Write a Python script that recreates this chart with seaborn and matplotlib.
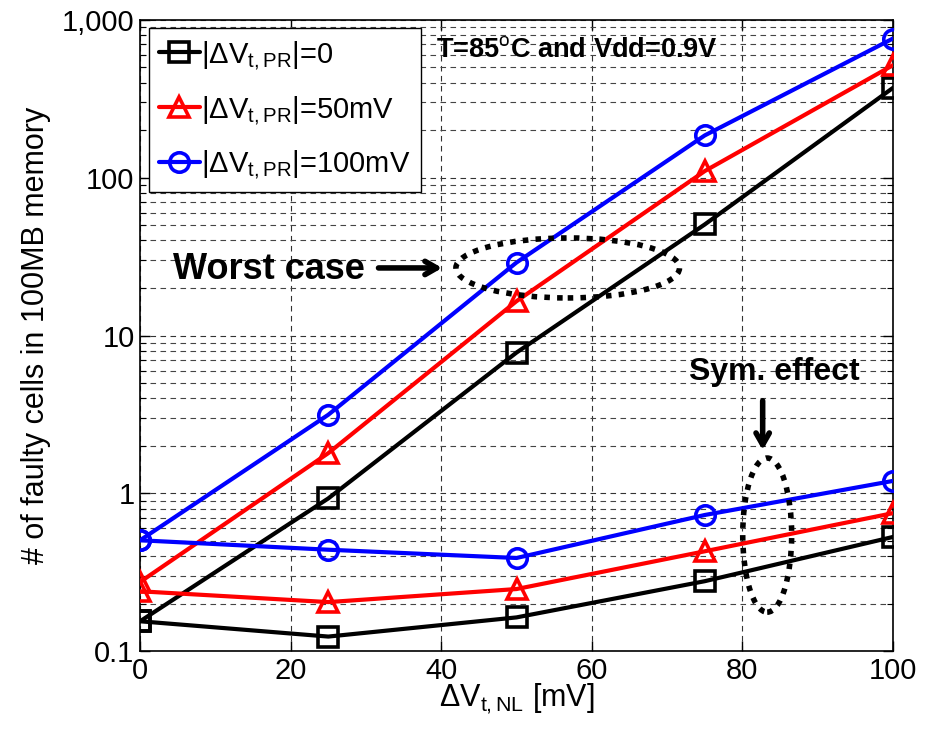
import matplotlib
matplotlib.use("Agg")
import matplotlib.pyplot as plt
import seaborn as sns
import pandas as pd
import numpy as np
from matplotlib.patches import Ellipse
from matplotlib.ticker import FixedLocator, FixedFormatter, LogLocator, NullFormatter

x_vals = [0, 25, 50, 75, 100]

# |dVt,PR| = 0
black_upper = [0.155, 0.93, 7.8, 50.5, 370]
black_lower = [0.155, 0.124, 0.164, 0.278, 0.53]
# |dVt,PR| = 50mV
red_upper = [0.275, 1.8, 16.5, 110, 515]
red_lower = [0.24, 0.205, 0.248, 0.43, 0.75]
# |dVt,PR| = 100mV
blue_upper = [0.505, 3.15, 29, 185, 760]
blue_lower = [0.505, 0.44, 0.39, 0.73, 1.2]

labels = [r"|$\Delta$V$_{\rm t,PR}$|=0", r"|$\Delta$V$_{\rm t,PR}$|=50mV", r"|$\Delta$V$_{\rm t,PR}$|=100mV"]
y_ticks = [0.1, 1, 10, 100, 1000]
y_tick_labels = ["0.1", "1", "10", "100", "1,000"]
x_ticks = [0, 20, 40, 60, 80, 100]

sns.set_theme(style="white")
plt.rcParams['font.family'] = ['Liberation Sans', 'DejaVu Sans']
plt.rcParams['mathtext.fontset'] = 'custom'
plt.rcParams['mathtext.rm'] = 'Liberation Sans'
plt.rcParams['mathtext.it'] = 'Liberation Sans:italic'
plt.rcParams['mathtext.bf'] = 'Liberation Sans:bold'
for k in ['text.color', 'axes.labelcolor', 'xtick.color', 'ytick.color']:
    plt.rcParams[k] = 'black'

fig = plt.figure(figsize=(9.34, 7.31), dpi=100)
ax = fig.add_axes([0.15, 0.109, 0.806, 0.864])

series = [
    (labels[0], "black", "s", black_upper, black_lower),
    (labels[1], "#ff0000", "^", red_upper, red_lower),
    (labels[2], "#0000ff", "o", blue_upper, blue_lower),
]

for lab, col, mk, up, lo in series:
    for i, vals in enumerate([up, lo]):
        df = pd.DataFrame({"x": x_vals, "y": vals})
        sns.lineplot(data=df, x="x", y="y", ax=ax, color=col, marker=mk,
                     markersize=14, markerfacecolor="none", markeredgecolor=col,
                     markeredgewidth=2.6, linewidth=3.0,
                     label=lab if i == 0 else None, legend=False, zorder=5)

ax.set_yscale("log")
ax.set_xlim(0, 100)
ax.set_ylim(0.1, 1000)
ax.xaxis.set_major_locator(FixedLocator(x_ticks))
ax.yaxis.set_major_locator(FixedLocator(y_ticks))
ax.yaxis.set_major_formatter(FixedFormatter(y_tick_labels))
ax.yaxis.set_minor_locator(LogLocator(base=10, subs=np.arange(2, 10)))
ax.yaxis.set_minor_formatter(NullFormatter())

ax.grid(True, which="major", axis="both", color="#333333", linestyle=(0, (5, 4)), linewidth=0.8)
ax.grid(True, which="minor", axis="y", color="#444444", linestyle=(0, (5, 4)), linewidth=0.8)

ax.tick_params(axis="both", which="major", direction="in", length=7, width=1,
               labelsize=21, top=True, right=True, left=True, bottom=True, pad=4)
ax.tick_params(axis="y", which="minor", direction="in", length=4, width=0.8, left=True, right=True)
for s in ax.spines.values():
    s.set_color("black")
    s.set_linewidth(1.2)

ax.set_xlabel(r"$\Delta$V$_{\rm t,NL}$ [mV]", fontsize=22, labelpad=-2)
ax.set_ylabel("# of faulty cells in 100MB memory", fontsize=22, labelpad=8)

leg = ax.legend(loc="upper left", fontsize=21, frameon=True, fancybox=False,
                edgecolor="black", borderpad=0.35, handlelength=1.4, handletextpad=0.05,
                labelspacing=0.75, borderaxespad=0.3)
leg.get_frame().set_linewidth(1.0)
leg.get_frame().set_alpha(1)

ax.text(0.393, 0.952, r"T=85$^{\rm o}$C and Vdd=0.9V", transform=ax.transAxes,
        fontsize=19.5, fontweight="bold", ha="left", va="center")

# Worst case annotation
ax.text(0.044, 0.604, "Worst case", transform=ax.transAxes, fontsize=26,
        fontweight="bold", ha="left", va="center")
ax.annotate("", xy=(0.405, 0.607), xytext=(0.313, 0.607), xycoords="axes fraction",
            arrowprops=dict(arrowstyle="->,head_length=0.7,head_width=0.4", lw=4, color="black"))
ax.add_patch(Ellipse((0.568, 0.607), 0.297, 0.095, transform=ax.transAxes,
                     fill=False, edgecolor="black", linestyle=(0, (1, 1.3)), linewidth=4, zorder=6))

# Sym. effect annotation
ax.text(0.843, 0.443, "Sym. effect", transform=ax.transAxes, fontsize=23,
        fontweight="bold", ha="center", va="center")
ax.annotate("", xy=(0.827, 0.314), xytext=(0.827, 0.401), xycoords="axes fraction",
            arrowprops=dict(arrowstyle="->,head_length=0.7,head_width=0.4", lw=4, color="black"))
ax.add_patch(Ellipse((0.833, 0.184), 0.065, 0.244, transform=ax.transAxes,
                     fill=False, edgecolor="black", linestyle=(0, (1, 1.3)), linewidth=4, zorder=6))

fig.savefig("out.png", dpi=100, facecolor="white")
